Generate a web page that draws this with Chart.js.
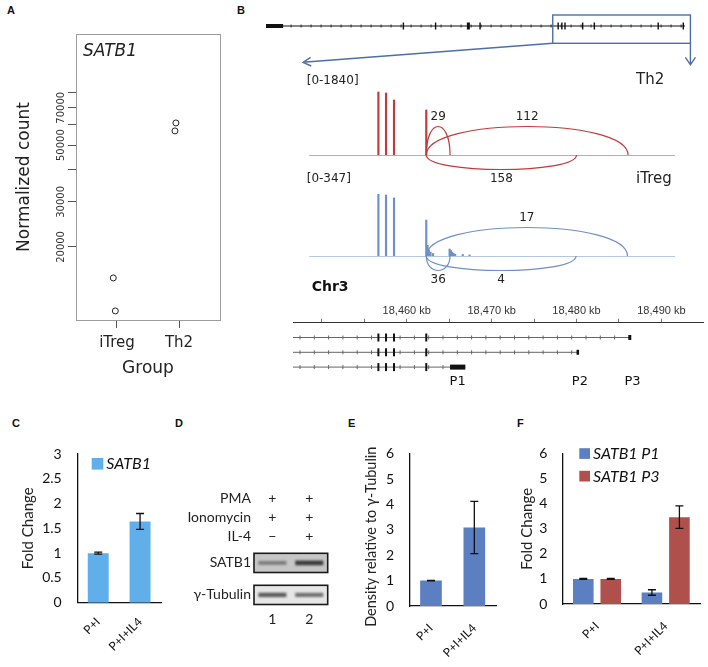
<!DOCTYPE html>
<html>
<head>
<meta charset="utf-8">
<title>SATB1 figure</title>
<script src="https://cdn.jsdelivr.net/npm/chart.js"></script>
<style>
  body { margin: 0; background: #fff; }
  #fig { position: relative; width: 708px; height: 667px; overflow: hidden; }
  #fig canvas { position: absolute; }
  .tag { position: absolute; font: bold 11px "Liberation Sans", Arial, sans-serif; line-height: 11px; color: #111; }
</style>
</head>
<body>
<div id="fig">
  <div class="tag" style="left:7px;top:5px">A</div>
  <div class="tag" style="left:237px;top:5px">B</div>
  <div class="tag" style="left:12px;top:418px">C</div>
  <div class="tag" style="left:175px;top:418px">D</div>
  <div class="tag" style="left:348px;top:418px">E</div>
  <div class="tag" style="left:517px;top:418px">F</div>
</div>
<script>
// ---- A: normalized counts (log axis)
const groupsA = ['iTreg', 'Th2'];
const countITreg = [15130, 11240];
const countTh2 = [61060, 56840];
const jitterITreg = [-0.06, -0.027];
const jitterTh2 = [-0.05, -0.065];
const ticksA = [20000, 30000, 40000, 50000, 60000, 70000, 80000];
const labelsA = [20000, 30000, 50000, 70000];

// ---- B: genome browser tracks (kb on chr3)
const viewKb = [18446.6, 18494.9];
const overviewKb = [18346, 18495];
const geneKb = [18346, 18493];
const geneUtrKb = [18346, 18352];
const overviewExons = [18394.2, 18405.5, 18417.0, 18421.1, 18448.5, 18449.8, 18450.9, 18457.1, 18461.2, 18483.6, 18492.4];
const overviewWideExons = [18417.0];
const covRange = [18448.5, 18491.6];
const th2Cov = [[18456.66, 1811], [18457.56, 1783], [18458.5, 1581], [18462.3, 1294]];
const itregCov = [[18456.66, 347], [18457.56, 341], [18458.5, 325], [18462.3, 201], [18462.45, 60], [18462.6, 35],
  [18462.8, 22], [18463.1, 14], [18465.05, 39], [18465.2, 30], [18465.35, 22], [18465.5, 15], [18465.7, 10], [18466.6, 8], [18467.4, 6]];
const th2Junctions = [
  { from: 18462.3, to: 18465.1, count: 29, side: 'up' },
  { from: 18462.3, to: 18486.07, count: 112, side: 'up' },
  { from: 18462.3, to: 18480.0, count: 158, side: 'down' }
];
const itregJunctions = [
  { from: 18462.3, to: 18486.0, count: 17, side: 'up' },
  { from: 18462.3, to: 18465.1, count: 36, side: 'down' },
  { from: 18462.3, to: 18479.95, count: 4, side: 'down' }
];
const rulerTicks = [18450, 18455, 18460, 18465, 18470, 18475, 18480, 18485, 18490];
const rulerLabels = [18460, 18470, 18480, 18490];
const txStart = 18446.6;
const txEnds = [18486.3, 18480.2, 18466.9];
const txFirstExons = [[18486.1, 18486.45], [18480.0, 18480.3], [18465.1, 18466.9]];
const sharedExons = [18456.66, 18457.56, 18458.5, 18462.3];
const promoters = ['P1', 'P2', 'P3'];
const promoterKb = [18466.0, 18480.4, 18486.6];

// ---- C-F
const conditions = ['P+I', 'P+I+IL4'];
const satb1Fold = [1.0, 1.64];
const satb1FoldErr = [0.02, 0.16];
const density = [1.0, 3.09];
const densityErr = [0.01, 1.03];
const p1Fold = [1.0, 0.46];
const p1FoldErr = [0.02, 0.11];
const p3Fold = [1.0, 3.47];
const p3FoldErr = [0.02, 0.45];
const ticksC = [0, 0.5, 1, 1.5, 2, 2.5, 3];
const ticksEF = [0, 1, 2, 3, 4, 5, 6];

// ---- D: western blot
const lanes = ['1', '2'];
const treatments = ['PMA', 'Ionomycin', 'IL-4'];
const treatmentMarks = [['+', '+'], ['+', '+'], ['−', '+']];
const blots = ['SATB1', 'γ-Tubulin'];
const bandSATB1 = [0.45, 0.85];
const bandTubulin = [0.7, 0.6];

Chart.defaults.animation = false;
Chart.defaults.responsive = false;
Chart.defaults.devicePixelRatio = 1;
Chart.defaults.font.family = 'Lato';
Chart.defaults.color = '#222';
Chart.defaults.plugins.legend.display = false;
Chart.defaults.plugins.tooltip.enabled = false;

const fig = document.getElementById('fig');
function canvasAt(left, top, w, h) {
  const c = document.createElement('canvas');
  c.width = w; c.height = h;
  c.style.left = left + 'px'; c.style.top = top + 'px';
  fig.appendChild(c);
  return c;
}

// free text items (labels that are not part of an axis)
const notes = {
  id: 'notes',
  afterDraw(chart, args, opts) {
    const ctx = chart.ctx;
    (opts.items || []).forEach(n => {
      ctx.save();
      ctx.font = n.font;
      ctx.fillStyle = n.color || '#222';
      ctx.textAlign = n.align || 'left';
      ctx.textBaseline = 'middle';
      ctx.translate(n.x, n.y);
      if (n.rot) ctx.rotate(n.rot);
      ctx.fillText(n.text, 0, 0);
      ctx.restore();
    });
  }
};
Chart.register(notes);

const errorBars = {
  id: 'errorBars',
  afterDatasetsDraw(chart) {
    const ctx = chart.ctx, y = chart.scales.y;
    chart.data.datasets.forEach((ds, i) => {
      if (!ds.err) return;
      chart.getDatasetMeta(i).data.forEach((bar, j) => {
        const top = y.getPixelForValue(ds.data[j] + ds.err[j]);
        const bot = y.getPixelForValue(ds.data[j] - ds.err[j]);
        ctx.save();
        ctx.strokeStyle = '#111';
        ctx.lineWidth = 1.3;
        ctx.beginPath();
        ctx.moveTo(bar.x, top); ctx.lineTo(bar.x, bot);
        ctx.moveTo(bar.x - 4, top); ctx.lineTo(bar.x + 4, top);
        ctx.moveTo(bar.x - 4, bot); ctx.lineTo(bar.x + 4, bot);
        ctx.stroke();
        ctx.restore();
      });
    });
  }
};

const boxLegend = {
  id: 'boxLegend',
  afterDraw(chart, args, o) {
    if (!o.size) return;
    const ctx = chart.ctx, a = chart.chartArea;
    ctx.save();
    chart.data.datasets.forEach((ds, i) => {
      const x = a.left + o.dx, y = a.top + o.dy + i * (o.row || 0);
      ctx.fillStyle = ds.backgroundColor;
      ctx.fillRect(x, y, o.size, o.size);
      ctx.font = o.font;
      ctx.fillStyle = '#111';
      ctx.textAlign = 'left';
      ctx.textBaseline = 'middle';
      ctx.fillText(ds.label, x + o.size + 3, y + o.size / 2 + 0.5);
    });
    ctx.restore();
  }
};

// ---------- Panel A
const rBox = {
  id: 'rBox',
  afterDraw(chart) {
    const {ctx, chartArea: a, scales: {y}} = chart;
    ctx.save();
    ctx.strokeStyle = '#9c9c9c';
    ctx.lineWidth = 1;
    ctx.strokeRect(a.left + 0.5, a.top + 0.5, a.right - a.left, a.bottom - a.top);
    ctx.font = '10px "DejaVu Sans"';
    ctx.fillStyle = '#333';
    ctx.textAlign = 'center';
    ctx.textBaseline = 'middle';
    labelsA.forEach(v => {
      ctx.save();
      ctx.translate(a.left - 15, y.getPixelForValue(v));
      ctx.rotate(-Math.PI / 2);
      ctx.fillText(String(v), 0, 0);
      ctx.restore();
    });
    ctx.restore();
  }
};

new Chart(canvasAt(0, 0, 240, 390), {
  type: 'scatter',
  data: {
    datasets: [
      { data: countITreg.map((v, i) => ({ x: 1 + jitterITreg[i], y: v })) },
      { data: countTh2.map((v, i) => ({ x: 2 + jitterTh2[i], y: v })) }
    ]
  },
  options: {
    layout: { padding: { top: 34, right: 20, left: 0, bottom: 0 } },
    elements: { point: { radius: 3, borderWidth: 1, borderColor: '#222', backgroundColor: 'rgba(0,0,0,0)' } },
    scales: {
      x: {
        type: 'linear', min: 0.339, max: 2.661,
        afterBuildTicks: s => { s.ticks = groupsA.map((g, i) => ({ value: i + 1 })); },
        ticks: { callback: v => groupsA[v - 1], font: { family: 'DejaVu Sans', size: 15 }, color: '#222', padding: 6, autoSkip: false, minRotation: 0, maxRotation: 0 },
        grid: { drawOnChartArea: false, tickLength: 8, color: '#555' },
        border: { display: false },
        title: { display: true, text: 'Group', font: { family: 'DejaVu Sans', size: 17 }, color: '#222', padding: { top: 0, bottom: 10.8 } },
        afterFit: s => { s.height = 70; }
      },
      y: {
        type: 'logarithmic', min: 10360, max: 136000,
        afterBuildTicks: s => { s.ticks = ticksA.map(v => ({ value: v })); },
        ticks: { display: false },
        grid: { drawOnChartArea: false, tickLength: 8, color: '#555' },
        border: { display: false },
        title: { display: true, text: 'Normalized count', font: { family: 'DejaVu Sans', size: 17 }, color: '#222', padding: { top: 14.8, bottom: 0 } },
        afterFit: s => { s.width = 76; }
      }
    },
    plugins: { notes: { items: [{ text: 'SATB1', x: 83, y: 52, font: 'italic 17px "DejaVu Sans"' }] } }
  },
  plugins: [rBox]
});

// ---------- Panel B
const geneOverview = {
  id: 'geneOverview',
  afterDraw(chart) {
    const {ctx, chartArea: a, scales: {x}} = chart;
    const gy = a.top + 11;
    ctx.save();
    ctx.strokeStyle = '#111';
    ctx.fillStyle = '#111';
    ctx.lineWidth = 1;
    ctx.beginPath();
    ctx.moveTo(x.getPixelForValue(geneKb[0]), gy);
    ctx.lineTo(x.getPixelForValue(geneKb[1]), gy);
    ctx.stroke();
    const u0 = x.getPixelForValue(geneUtrKb[0]), u1 = x.getPixelForValue(geneUtrKb[1]);
    ctx.fillRect(u0, gy - 2, u1 - u0, 4);
    ctx.beginPath();
    for (let p = u1 + 8; p < x.getPixelForValue(geneKb[1]); p += 10) {
      ctx.moveTo(p, gy - 1.5); ctx.lineTo(p, gy + 1.5);
    }
    ctx.lineWidth = 0.8;
    ctx.stroke();
    overviewExons.forEach(v => {
      const w = overviewWideExons.includes(v) ? 3 : 1.4;
      ctx.fillRect(x.getPixelForValue(v) - w / 2, gy - 3.5, w, 7);
    });
    // zoom box and arrows
    const b0 = x.getPixelForValue(viewKb[0]), b1 = x.getPixelForValue(viewKb[1]);
    ctx.strokeStyle = '#4f6ea8';
    ctx.lineWidth = 1.4;
    ctx.strokeRect(b0, a.top, b1 - b0, a.bottom - a.top);
    const tipX = x.getPixelForValue(18359), tipY = a.bottom + 19;
    const ang = Math.atan2(a.bottom - tipY, b0 - tipX);
    ctx.beginPath();
    ctx.moveTo(b0, a.bottom); ctx.lineTo(tipX, tipY);
    ctx.moveTo(tipX + 9 * Math.cos(ang - 0.5), tipY + 9 * Math.sin(ang - 0.5));
    ctx.lineTo(tipX, tipY);
    ctx.lineTo(tipX + 9 * Math.cos(ang + 0.5), tipY + 9 * Math.sin(ang + 0.5));
    ctx.moveTo(b1, a.bottom); ctx.lineTo(b1, a.bottom + 21.5);
    ctx.moveTo(b1 - 5, a.bottom + 14); ctx.lineTo(b1, a.bottom + 21.5); ctx.lineTo(b1 + 5, a.bottom + 14);
    ctx.stroke();
    ctx.restore();
  }
};

new Chart(canvasAt(250, 0, 458, 80), {
  type: 'scatter',
  data: { datasets: [] },
  options: {
    layout: { padding: { left: 16, right: 17.3, top: 15, bottom: 36.7 } },
    scales: {
      x: { type: 'linear', display: false, min: overviewKb[0], max: overviewKb[1] },
      y: { display: false, min: 0, max: 1 }
    }
  },
  plugins: [geneOverview]
});

const sashimi = {
  id: 'sashimi',
  afterDatasetsDraw(chart, args, o) {
    const {ctx, scales: {x, y}} = chart;
    const y0 = y.getPixelForValue(0);
    ctx.save();
    ctx.strokeStyle = o.color;
    ctx.globalAlpha = 0.5;
    ctx.lineWidth = 1;
    ctx.beginPath();
    ctx.moveTo(x.getPixelForValue(covRange[0]), y0 + 0.5);
    ctx.lineTo(x.getPixelForValue(covRange[1]), y0 + 0.5);
    ctx.stroke();
    ctx.globalAlpha = 1;
    ctx.lineWidth = 1.2;
    ctx.font = '12px "DejaVu Sans"';
    ctx.fillStyle = '#222';
    ctx.textAlign = 'center';
    ctx.textBaseline = 'middle';
    o.junctions.forEach(j => {
      const x1 = x.getPixelForValue(j.from), x2 = x.getPixelForValue(j.to);
      const h = j.side === 'up' ? 28.5 : -14.5;
      ctx.beginPath();
      ctx.moveTo(x1, y0);
      ctx.bezierCurveTo(x1, y0 - h * 4 / 3, x2, y0 - h * 4 / 3, x2, y0);
      ctx.stroke();
      ctx.fillText(String(j.count), (x1 + x2) / 2, y0 - h - (h > 0 ? 9.5 : -9.5));
    });
    ctx.restore();
  }
};

function trackChart(el, o) {
  return new Chart(el, {
    type: 'bar',
    data: { datasets: [{ data: o.cov.map(p => ({ x: p[0], y: p[1] })), backgroundColor: o.color, barThickness: 1.5 }] },
    options: {
      layout: { padding: { left: 43, right: 5, top: o.top, bottom: o.bottom } },
      scales: {
        x: { type: 'linear', display: false, offset: false, min: viewKb[0], max: viewKb[1] },
        y: { display: false, min: 0, max: o.max }
      },
      plugins: { sashimi: { junctions: o.junctions, color: o.color }, notes: { items: o.notes } }
    },
    plugins: [sashimi]
  });
}

trackChart(canvasAt(250, 60, 458, 130), {
  cov: th2Cov, max: 1840, color: '#c23a3a', junctions: th2Junctions, top: 31, bottom: 35,
  notes: [
    { text: '[0-1840]', x: 56.7, y: 20.7, font: '12px "DejaVu Sans"' },
    { text: 'Th2', x: 386, y: 20, font: '15px "DejaVu Sans"' }
  ]
});

trackChart(canvasAt(250, 165, 458, 125), {
  cov: itregCov, max: 347, color: '#6f8fc8', junctions: itregJunctions, top: 29, bottom: 34,
  notes: [
    { text: '[0-347]', x: 56.7, y: 14.3, font: '12px "DejaVu Sans"' },
    { text: 'iTreg', x: 386, y: 14, font: '15px "DejaVu Sans"' }
  ]
});

const transcripts = {
  id: 'transcripts',
  afterDraw(chart) {
    const {ctx, scales: {x, y}} = chart;
    ctx.save();
    txEnds.forEach((end, i) => {
      const ty = y.getPixelForValue(i + 1);
      const x0 = x.getPixelForValue(txStart), x1 = x.getPixelForValue(end);
      ctx.strokeStyle = '#666';
      ctx.lineWidth = 1;
      ctx.beginPath();
      ctx.moveTo(x0, ty); ctx.lineTo(x1, ty);
      for (let p = x0 + 7; p < x1 - 4; p += 14.3) { ctx.moveTo(p, ty - 2); ctx.lineTo(p, ty + 2); }
      ctx.stroke();
      ctx.fillStyle = '#111';
      sharedExons.forEach(v => ctx.fillRect(x.getPixelForValue(v) - 1, ty - 4, 2, 8));
      const f0 = x.getPixelForValue(txFirstExons[i][0]), f1 = x.getPixelForValue(txFirstExons[i][1]);
      ctx.fillRect(f0, ty - 2.5, Math.max(f1 - f0, 2.5), 5);
    });
    ctx.font = '13px "DejaVu Sans"';
    ctx.fillStyle = '#111';
    ctx.textAlign = 'center';
    ctx.textBaseline = 'middle';
    promoters.forEach((p, i) => ctx.fillText(p, x.getPixelForValue(promoterKb[i]), y.getPixelForValue(4)));
    ctx.restore();
  }
};

new Chart(canvasAt(250, 275, 458, 115), {
  type: 'scatter',
  data: { datasets: [] },
  options: {
    layout: { padding: { left: 43, right: 5, top: 0, bottom: 8.1 } },
    scales: {
      x: {
        type: 'linear', position: 'top', min: viewKb[0], max: viewKb[1],
        afterBuildTicks: s => { s.ticks = rulerTicks.map(v => ({ value: v })); },
        ticks: {
          callback: v => rulerLabels.includes(v) ? v.toLocaleString('en-US') + ' kb' : '',
          font: { family: 'Liberation Sans', size: 11 }, color: '#333', padding: 1.5,
          autoSkip: false, minRotation: 0, maxRotation: 0
        },
        grid: { drawOnChartArea: false, tickLength: 4, color: '#777' },
        border: { color: '#333', width: 1 },
        afterFit: s => { s.height = 47.7; }
      },
      y: { display: false, min: 0, max: 4, reverse: true }
    },
    plugins: { notes: { items: [{ text: 'Chr3', x: 61.7, y: 12.3, font: 'bold 14px "DejaVu Sans"', color: '#111' }] } }
  },
  plugins: [transcripts]
});

// ---------- Panels C, E, F
function barChart(el, o) {
  return new Chart(el, {
    type: 'bar',
    data: { labels: conditions, datasets: o.datasets },
    options: {
      layout: { padding: { top: o.top, right: o.right, left: 0, bottom: 0 } },
      datasets: { bar: { categoryPercentage: o.cat, barPercentage: o.barPct } },
      scales: {
        x: {
          grid: { display: false, drawTicks: false },
          border: { color: '#111', width: 1.3 },
          ticks: { minRotation: 45, maxRotation: 45, padding: o.xpad, autoSkip: false, font: { size: 12 }, color: '#111' },
          afterFit: s => { s.height = o.xh; }
        },
        y: {
          min: 0, max: o.ticks[o.ticks.length - 1],
          grid: { display: false, drawTicks: false },
          border: { color: '#111', width: 1.3 },
          afterBuildTicks: s => { s.ticks = o.ticks.map(v => ({ value: v })); },
          ticks: { callback: v => String(v), padding: o.ypad, font: { size: 14 }, color: '#111' },
          title: o.ytitle || { display: false },
          afterFit: s => { s.width = o.yw; }
        }
      },
      plugins: { boxLegend: o.legend || {}, notes: { items: o.notes || [] } }
    },
    plugins: [errorBars, boxLegend]
  });
}

barChart(canvasAt(0, 430, 180, 237), {
  datasets: [{ label: 'SATB1', data: satb1Fold, err: satb1FoldErr, backgroundColor: '#60aeea' }],
  ticks: ticksC, top: 22.7, right: 19, xh: 64.3, yw: 77.3, ypad: 15.6, xpad: 12, cat: 1, barPct: 0.5,
  ytitle: { display: true, text: 'Fold Change', font: { size: 15 }, color: '#222', padding: { top: 19.3, bottom: 0 } },
  legend: { dx: 14.4, dy: 4, size: 11.6, font: 'italic 16px Lato' }
});

barChart(canvasAt(345, 430, 160, 237), {
  datasets: [{ label: 'density', data: density, err: densityErr, backgroundColor: '#5b7fc1' }],
  ticks: ticksEF, top: 19.3, right: 9, xh: 61, yw: 64.3, ypad: 15.3, xpad: 15, cat: 1, barPct: 0.5,
  notes: [{ text: 'Density relative to γ-Tubulin', x: 26.7, y: 106.7, rot: -Math.PI / 2, align: 'center', font: '14.5px Lato' }]
});

barChart(canvasAt(505, 430, 203, 237), {
  datasets: [
    { label: 'SATB1 P1', data: p1Fold, err: p1FoldErr, backgroundColor: '#5b7fc1' },
    { label: 'SATB1 P3', data: p3Fold, err: p3FoldErr, backgroundColor: '#b0504d' }
  ],
  ticks: ticksEF, top: 18.3, right: 8, xh: 63, yw: 57.7, ypad: 15.4, xpad: 15, cat: 0.8, barPct: 0.75,
  ytitle: { display: true, text: 'Fold Change', font: { size: 15 }, color: '#222', padding: { top: 13, bottom: 0 } },
  legend: { dx: 16.6, dy: -5.6, row: 22.6, size: 10.7, font: 'italic 16px Lato' }
});

// ---------- Panel D
const stripFill = ['#c6c6c6', '#e6e6e6'];
const blotPlugin = {
  id: 'blot',
  afterDraw(chart) {
    const {ctx, chartArea: a, scales: {x}} = chart;
    ctx.save();
    ctx.font = '14px Lato';
    ctx.textBaseline = 'middle';
    treatments.forEach((t, i) => {
      const ty = a.top - 55 + i * 19.2;
      ctx.fillStyle = '#222';
      ctx.textAlign = 'right';
      ctx.fillText(t, a.left - 3, ty);
      ctx.textAlign = 'center';
      treatmentMarks[i].forEach((m, j) => ctx.fillText(m, x.getPixelForValue(j), ty));
    });
    blots.forEach((name, k) => {
      const top = a.top + k * 32, h = 19.2;
      ctx.fillStyle = stripFill[k];
      ctx.fillRect(a.left, top, a.right - a.left, h);
      const bands = k === 0 ? bandSATB1 : bandTubulin;
      ctx.filter = 'blur(1px)';
      bands.forEach((v, j) => {
        const cx = x.getPixelForValue(j);
        ctx.fillStyle = `rgba(35,35,35,${v})`;
        ctx.fillRect(cx - 14, top + h / 2 - 1.5 - v, 28, 3 + 2 * v);
      });
      ctx.filter = 'none';
      ctx.strokeStyle = '#1a1a1a';
      ctx.lineWidth = 1.6;
      ctx.strokeRect(a.left, top, a.right - a.left, h);
      ctx.fillStyle = '#222';
      ctx.textAlign = 'right';
      ctx.fillText(name, a.left - 3, top + h / 2);
    });
    ctx.restore();
  }
};

new Chart(canvasAt(180, 480, 160, 165), {
  type: 'bar',
  data: { labels: lanes, datasets: [] },
  options: {
    layout: { padding: { left: 74, right: 12.3, top: 73.3, bottom: 15 } },
    scales: {
      x: {
        grid: { display: false, drawTicks: false }, border: { display: false },
        ticks: { font: { size: 14 }, color: '#222', padding: 7 },
        afterFit: s => { s.height = 25.7; }
      },
      y: { display: false, min: 0, max: 1 }
    }
  },
  plugins: [blotPlugin]
});
</script>
</body>
</html>
